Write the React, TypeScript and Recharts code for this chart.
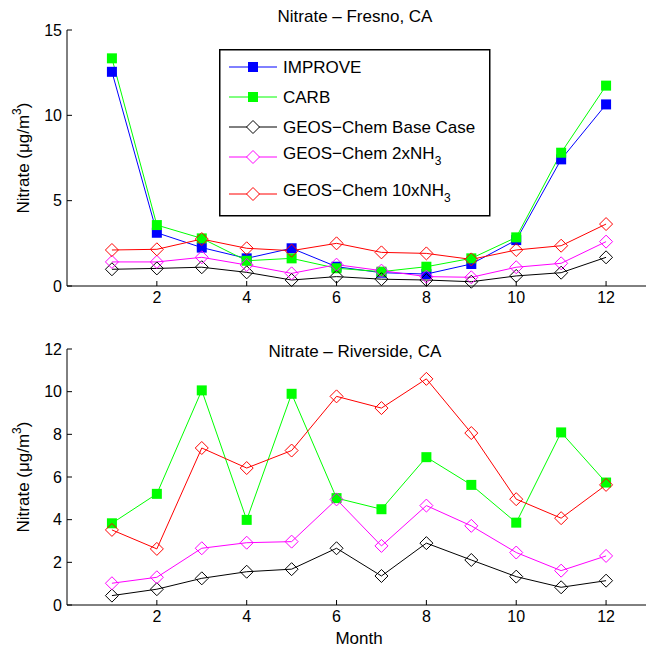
import { LineChart, Line, XAxis, YAxis, Legend } from "recharts";

const months = [1, 2, 3, 4, 5, 6, 7, 8, 9, 10, 11, 12];
const monthTicks = [2, 4, 6, 8, 10, 12];

// Fresno, CA (ug/m3)
const fresnoImprove = [12.55, 3.12, 2.25, 1.62, 2.21, 1.13, 0.78, 0.7, 1.29, 2.69, 7.42, 10.64];
const fresnoCarb = [13.34, 3.57, 2.79, 1.48, 1.62, 1.04, 0.84, 1.13, 1.62, 2.85, 7.81, 11.74];
const fresnoBase = [0.98, 1.03, 1.1, 0.8, 0.35, 0.55, 0.4, 0.35, 0.25, 0.59, 0.78, 1.68];
const fresno2x = [1.41, 1.41, 1.68, 1.23, 0.74, 1.25, 0.9, 0.55, 0.51, 1.1, 1.33, 2.6];
const fresno10x = [2.11, 2.15, 2.75, 2.21, 2.07, 2.5, 1.97, 1.91, 1.56, 2.11, 2.36, 3.63];

// Riverside, CA (ug/m3)
const riversideCarb = [3.83, 5.21, 10.06, 3.99, 9.9, 5.01, 4.49, 6.93, 5.63, 3.86, 8.09, 5.74];
const riversideBase = [0.44, 0.74, 1.25, 1.56, 1.68, 2.66, 1.36, 2.9, 2.11, 1.33, 0.83, 1.14];
const riverside2x = [1.02, 1.3, 2.66, 2.92, 2.97, 4.95, 2.77, 4.66, 3.71, 2.46, 1.61, 2.3];
const riverside10x = [3.52, 2.63, 7.36, 6.42, 7.24, 9.78, 9.23, 10.6, 8.06, 4.96, 4.07, 5.63];

const fresnoData = months.map((m, i) => ({
  month: m,
  improve: fresnoImprove[i],
  carb: fresnoCarb[i],
  base: fresnoBase[i],
  x2: fresno2x[i],
  x10: fresno10x[i],
}));

const riversideData = months.map((m, i) => ({
  month: m,
  carb: riversideCarb[i],
  base: riversideBase[i],
  x2: riverside2x[i],
  x10: riverside10x[i],
}));

const FONT = "'Liberation Sans', Arial, Helvetica, sans-serif";
const BLUE = "#0000ff";
const GREEN = "#00ff00";
const BLACK = "#000000";
const MAGENTA = "#ff00ff";
const RED = "#ff0000";

const squareDot = (color: string) => (props: any) => {
  const { cx, cy, index } = props;
  return <rect key={`sq-${color}-${index}`} x={cx - 5} y={cy - 5} width={10} height={10} fill={color} />;
};

const diamondPath = (cx: number, cy: number, r: number) =>
  `M${cx},${cy - r}L${cx + r},${cy}L${cx},${cy + r}L${cx - r},${cy}Z`;

const diamondDot = (color: string) => (props: any) => {
  const { cx, cy, index } = props;
  return (
    <path
      key={`dm-${color}-${index}`}
      d={diamondPath(cx, cy, 6.5)}
      fill="none"
      stroke={color}
      strokeWidth={1}
    />
  );
};

const tickStyle = { fontSize: 16, fill: "#000", fontFamily: FONT };

const renderYLabel = (props: any) => {
  const { viewBox } = props;
  const x = 23;
  const y = viewBox.y + viewBox.height / 2;
  return (
    <text
      x={x}
      y={y}
      transform={`rotate(-90, ${x}, ${y})`}
      textAnchor="middle"
      dominantBaseline="central"
      fontSize={17}
      fontFamily={FONT}
      fill="#000"
    >
      Nitrate (μg/m
      <tspan dy={-6} fontSize={12}>
        3
      </tspan>
      <tspan dy={6}>)</tspan>
    </text>
  );
};

const legendItems = [
  { name: "IMPROVE", color: BLUE, marker: "square", sub: "" },
  { name: "CARB", color: GREEN, marker: "square", sub: "" },
  { name: "GEOS−Chem Base Case", color: BLACK, marker: "diamond", sub: "" },
  { name: "GEOS−Chem 2xNH", color: MAGENTA, marker: "diamond", sub: "3" },
  { name: "GEOS−Chem 10xNH", color: RED, marker: "diamond", sub: "3" },
];
const legendRows = [18, 48, 78, 108, 145];

const renderLegend = () => (
  <svg width={272} height={168} style={{ display: "block" }}>
    <rect x={0.75} y={0.75} width={270} height={166} fill="#fff" stroke="#000" strokeWidth={1.5} />
    {legendItems.map((item, i) => {
      const y = legendRows[i];
      return (
        <g key={item.name}>
          <line x1={10} x2={58} y1={y} y2={y} stroke={item.color} strokeWidth={1} />
          {item.marker === "square" ? (
            <rect x={29} y={y - 5} width={10} height={10} fill={item.color} />
          ) : (
            <path d={diamondPath(34, y, 6.5)} fill="#fff" stroke={item.color} strokeWidth={1} />
          )}
          <text
            x={64}
            y={item.sub ? y - 4 : y}
            dominantBaseline="central"
            fontSize={17}
            fontFamily={FONT}
            fill="#000"
          >
            {item.name}
            {item.sub && (
              <tspan dy={8} fontSize={12}>
                {item.sub}
              </tspan>
            )}
          </text>
        </g>
      );
    })}
  </svg>
);

const titleStyle: React.CSSProperties = {
  position: "absolute",
  left: 205,
  width: 300,
  textAlign: "center",
  fontFamily: FONT,
  fontSize: 17,
  lineHeight: "18px",
  color: "#000",
};

export default function App() {
  return (
    <div
      style={{
        position: "absolute",
        left: 0,
        top: 0,
        width: 646,
        height: 648,
        overflow: "hidden",
        background: "#fff",
      }}
    >
      <div style={{ ...titleStyle, top: 8 }}>Nitrate – Fresno, CA</div>
      <div style={{ position: "absolute", left: 0, top: 0 }}>
        <LineChart width={651} height={320} data={fresnoData} margin={{ top: 30, right: 0, left: 0, bottom: 0 }}>
          <XAxis
            type="number"
            dataKey="month"
            domain={[0, 13]}
            ticks={monthTicks}
            allowDataOverflow
            height={34}
            tickSize={-5}
            tickMargin={11}
            tick={tickStyle}
            stroke="#000"
          />
          <YAxis
            type="number"
            domain={[0, 15]}
            ticks={[0, 5, 10, 15]}
            width={67}
            tickSize={-5}
            tickMargin={10}
            tick={tickStyle}
            stroke="#000"
            label={{ content: renderYLabel }}
          />
          <Legend
            layout="vertical"
            align="center"
            verticalAlign="middle"
            content={renderLegend}
            wrapperStyle={{ left: 219, top: 49, width: 272, height: 168 }}
          />
          <Line dataKey="improve" name="IMPROVE" stroke={BLUE} strokeWidth={1} dot={squareDot(BLUE)} isAnimationActive={false} />
          <Line dataKey="carb" name="CARB" stroke={GREEN} strokeWidth={1} dot={squareDot(GREEN)} isAnimationActive={false} />
          <Line dataKey="base" name="GEOS−Chem Base Case" stroke={BLACK} strokeWidth={1} dot={diamondDot(BLACK)} isAnimationActive={false} />
          <Line dataKey="x2" name="GEOS−Chem 2xNH3" stroke={MAGENTA} strokeWidth={1} dot={diamondDot(MAGENTA)} isAnimationActive={false} />
          <Line dataKey="x10" name="GEOS−Chem 10xNH3" stroke={RED} strokeWidth={1} dot={diamondDot(RED)} isAnimationActive={false} />
        </LineChart>
      </div>

      <div style={{ position: "absolute", left: 0, top: 320 }}>
        <LineChart width={651} height={328} data={riversideData} margin={{ top: 29, right: 0, left: 0, bottom: 0 }}>
          <XAxis
            type="number"
            dataKey="month"
            domain={[0, 13]}
            ticks={monthTicks}
            allowDataOverflow
            height={43}
            tickSize={-5}
            tickMargin={11}
            tick={tickStyle}
            stroke="#000"
            label={{ value: "Month", position: "insideBottom", offset: 4, fontSize: 17, fill: "#000", fontFamily: FONT }}
          />
          <YAxis
            type="number"
            domain={[0, 12]}
            ticks={[0, 2, 4, 6, 8, 10, 12]}
            width={67}
            tickSize={-5}
            tickMargin={10}
            tick={tickStyle}
            stroke="#000"
            label={{ content: renderYLabel }}
          />
          <Line dataKey="carb" name="CARB" stroke={GREEN} strokeWidth={1} dot={squareDot(GREEN)} isAnimationActive={false} />
          <Line dataKey="base" name="GEOS−Chem Base Case" stroke={BLACK} strokeWidth={1} dot={diamondDot(BLACK)} isAnimationActive={false} />
          <Line dataKey="x2" name="GEOS−Chem 2xNH3" stroke={MAGENTA} strokeWidth={1} dot={diamondDot(MAGENTA)} isAnimationActive={false} />
          <Line dataKey="x10" name="GEOS−Chem 10xNH3" stroke={RED} strokeWidth={1} dot={diamondDot(RED)} isAnimationActive={false} />
        </LineChart>
      </div>
      <div style={{ ...titleStyle, top: 343 }}>Nitrate – Riverside, CA</div>
    </div>
  );
}
